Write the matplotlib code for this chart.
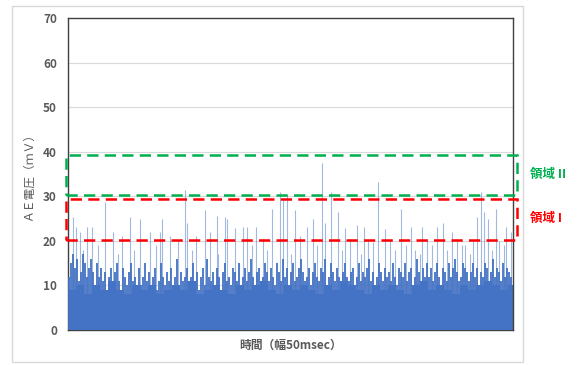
import matplotlib
matplotlib.use("Agg")
import matplotlib.pyplot as plt
import matplotlib.transforms as mtransforms
from matplotlib.patches import Rectangle

plt.rcParams['font.family'] = ['Noto Sans CJK JP', 'DejaVu Sans']

# AE voltage (mV), dense background level, one value per 2 time units
noise_mv = [
    12, 15, 17, 14, 16, 11, 13, 17, 15, 12, 14, 16, 13, 10, 15, 12, 14, 11, 13, 9,
    12, 14, 10, 13, 15, 11, 9, 14, 12, 10, 13, 15, 11, 12, 9, 14, 10, 12, 15, 11,
    13, 10, 12, 14, 9, 11, 15, 12, 10, 13, 11, 14, 9, 12, 16, 10, 13, 11, 12, 14,
    10, 12, 15, 11, 13, 9, 12, 14, 10, 16, 12, 11, 13, 10, 14, 12, 9, 13, 15, 11,
    12, 10, 14, 13, 11, 15, 10, 12, 14, 11, 13, 16, 12, 10, 13, 14, 11, 12, 15, 13,
    11, 14, 12, 10, 15, 13, 11, 16, 12, 14, 10, 13, 15, 11, 12, 14, 16, 13, 11, 12,
    14, 10, 13, 15, 12, 11, 14, 13, 16, 10, 12, 15, 13, 11, 14, 12, 10, 13, 15, 12,
    11, 13, 14, 10, 12, 15, 11, 13, 12, 14, 16, 11, 13, 10, 12, 15, 13, 11, 14, 12,
    13, 11, 15, 12, 10, 14, 13, 12, 15, 11, 13, 14, 10, 12, 16, 13, 11, 14, 12, 15,
    12, 14, 11, 13, 15, 12, 10, 14, 13, 11, 15, 12, 14, 16, 13, 11, 12, 15, 14, 13,
    11, 13, 15, 12, 14, 10, 13, 12, 15, 14, 11, 13, 16, 12, 14, 13, 11, 15, 12, 14,
    13, 12,
]

# solid lower level, one value per 8 time units
core_mv = [
    9, 10, 8, 10, 9, 11, 9, 8, 10, 9, 10, 8, 9, 10, 9, 11, 8, 9, 10, 9,
    8, 10, 9, 10, 11, 9, 8, 10, 9, 10, 9, 8, 10, 9, 11, 10, 9, 8, 10, 9,
    10, 9, 8, 10, 11, 9, 10, 9, 8, 10, 9, 10, 11, 10, 9, 10,
]

# isolated peaks: time position and height (mV)
spike_t = [5, 8, 12, 15, 19, 24, 30, 37, 45, 50, 54, 62, 66, 72, 82, 88, 92, 94,
           102, 110, 117, 119, 124, 128, 137, 142, 149, 150, 157, 159, 167, 175,
           179, 184, 188, 195, 199, 204, 212, 215, 219, 223, 227, 232, 239, 245,
           249, 254, 257, 263, 270, 274, 277, 282, 289, 293, 296, 300, 305, 310,
           317, 322, 327, 333, 338, 343, 347, 352, 354, 359, 364, 369, 375, 379,
           384, 389, 394, 397, 402, 405, 409, 413, 416, 420, 424, 428, 431, 436,
           438, 443]
spike_mv = [25.3, 23, 22, 18, 23, 23, 19, 28.7, 22, 17, 21, 25.3, 18, 25, 22, 19,
            22, 25, 21, 20, 31.3, 24, 18, 21, 27, 22, 25.5, 17, 25.3, 25, 22.8, 23,
            23, 19, 23, 20.5, 18, 27.2, 30.9, 29.4, 30.4, 17, 27, 21, 23, 25,
            19, 37.5, 24, 30.9, 26.5, 18, 22.8, 20.5, 23.5, 17, 23, 20, 19.8, 33.3,
            22.6, 20, 18, 27.2, 19, 23, 18, 17, 23, 20.5, 19, 23, 24, 18,
            22, 20, 19, 19, 17, 20, 25.3, 30.9, 26.5, 25, 18, 27.2, 20, 19,
            23, 22]

yticks = [0, 10, 20, 30, 40, 50, 60, 70]
region2 = (30.3, 39.3)
region1 = (20.2, 29.3)

blue = '#4472C4'
green = '#00B050'
red = '#FF0000'
gray = '#595959'

fig = plt.figure(figsize=(5.81, 3.65), dpi=100)
ax = fig.add_axes([68 / 581, 35 / 365, 445 / 581, 312 / 365])

core_x = [8 * i for i in range(len(core_mv))]
ax.bar(core_x, core_mv, width=8, align='edge', color=blue, linewidth=0, zorder=2)
noise_x = [1 + 2 * i for i in range(len(noise_mv))]
ax.vlines(noise_x, 0, noise_mv, color=blue, linewidth=1.3, zorder=3)
ax.vlines(spike_t, 0, spike_mv, color=blue, alpha=0.5, linewidth=0.8, zorder=3)

ax.set_xlim(0, 445)
ax.set_ylim(0, 70)
ax.set_yticks(yticks)
ax.set_xticks([])
ax.tick_params(axis='y', length=0, pad=8, labelsize=8.5, labelcolor=gray)
for lab in ax.get_yticklabels():
    lab.set_fontweight('bold')
ax.grid(axis='y', color='#D9D9D9', linewidth=0.8, zorder=0)
ax.set_axisbelow(True)
for s in ax.spines.values():
    s.set_color('#404040')
    s.set_linewidth(1.0)

ax.set_ylabel('ＡＥ電圧（ｍＶ）', fontsize=8.5, color=gray, labelpad=6)
ax.set_xlabel('時間（幅50msec）', fontsize=8.5, color=gray, fontweight='bold', labelpad=6)

# dashed region boxes, slightly wider than the plot area
trans = mtransforms.blended_transform_factory(ax.transAxes, ax.transData)
for (lo, hi), c in [(region2, green), (region1, red)]:
    r = Rectangle((-0.005, lo), 1.015, hi - lo, transform=trans, fill=False,
                  edgecolor=c, linewidth=1.8, linestyle=(0, (4.5, 2.5)),
                  clip_on=False, zorder=5)
    ax.add_patch(r)

fig.text(530 / 581, 1 - 174 / 365, '領域 II', color=green, fontsize=9,
         fontweight='bold', va='center', ha='left')
fig.text(530 / 581, 1 - 218 / 365, '領域 I', color=red, fontsize=9,
         fontweight='bold', va='center', ha='left')

fig.patches.append(Rectangle((12 / 581, 3 / 365), 511 / 581, 356 / 365,
                             transform=fig.transFigure, fill=False,
                             edgecolor='#D9D9D9', linewidth=1.0))

fig.savefig('out.png', dpi=100)
